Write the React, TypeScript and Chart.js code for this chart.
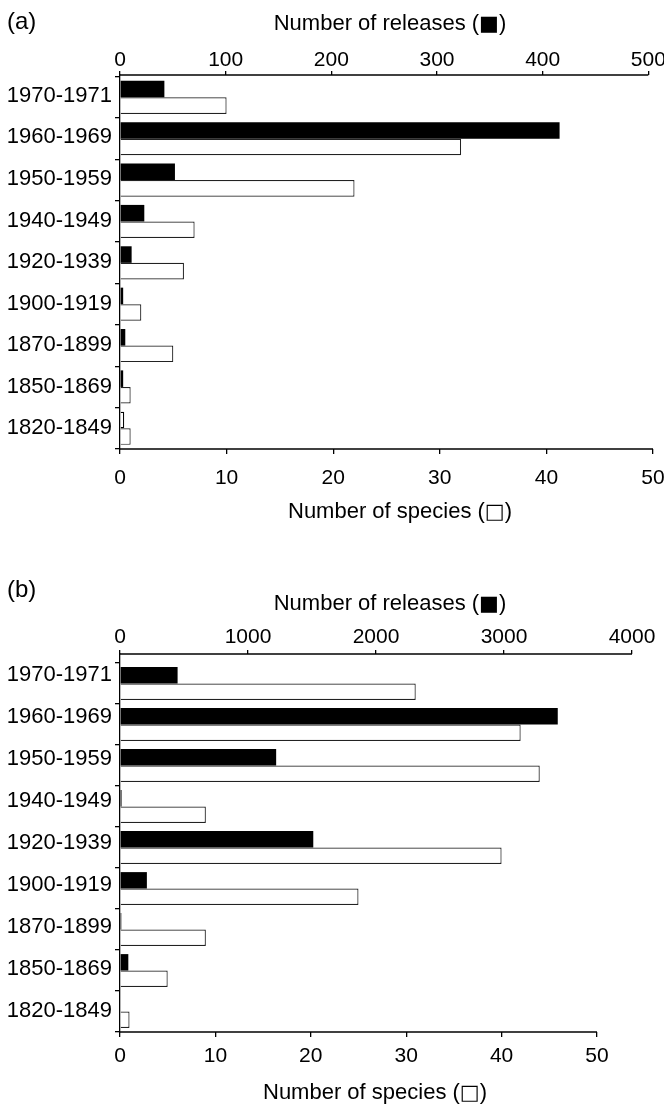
import React, { useEffect, useRef } from 'react';
import { Chart, registerables } from 'chart.js';

Chart.register(...registerables);

// ---- Data ----
const categories = ['1970-1971', '1960-1969', '1950-1959', '1940-1949', '1920-1939', '1900-1919', '1870-1899', '1850-1869', '1820-1849'];

// Panel (a)
const releasesA = [42, 416, 52, 23, 11, 3, 5, 3, 4];
const speciesA = [10, 32, 22, 7, 6, 2, 5, 1, 1];
const releaseTicksA = [0, 100, 200, 300, 400, 500];

// Panel (b)
const releasesB = [450, 3420, 1220, 12, 1510, 210, 10, 65, 0];
const speciesB = [31, 42, 44, 9, 40, 25, 9, 5, 1];
const releaseTicksB = [0, 1000, 2000, 3000, 4000];

const speciesTicks = [0, 10, 20, 30, 40, 50];

const releasesTitle = ['Number of releases (', '\u25A0', ')'];
const speciesTitle = ['Number of species (', '\u25A1', ')'];

const FONT = '"Liberation Sans", Arial, Helvetica, sans-serif';
const INK = '#000';

type PanelCfg = {
  releases: number[];
  species: number[];
  relTicks: number[];
  relMax: number;
  spTicks: number[];
  spMax: number;
  height: number;
  padRight: number;
  topH: number;
  bottomH: number;
  gap: number;
  topTickPad: number;
  bottomTickPad: number;
  topTitle: { cx: number; base: number };
  bottomTitle: { cx: number; base: number };
  hollowLast: boolean;
};

const last = (a: number[]) => a[a.length - 1];

function drawTitle(ctx: CanvasRenderingContext2D, parts: string[], cx: number, base: number) {
  const fonts = [`22px ${FONT}`, `21px "DejaVu Sans", sans-serif`, `22px ${FONT}`];
  const widths = parts.map((t, i) => {
    ctx.font = fonts[i];
    return ctx.measureText(t).width;
  });
  const total = widths.reduce((a, b) => a + b, 0);
  let x = cx - total / 2;
  ctx.fillStyle = INK;
  ctx.textBaseline = 'alphabetic';
  ctx.textAlign = 'left';
  parts.forEach((t, i) => {
    ctx.font = fonts[i];
    ctx.fillText(t, x, base);
    x += widths[i];
  });
}

const axisExtras = {
  id: 'axisExtras',
  afterDraw(chart: any, _args: any, opts: any) {
    const ctx = chart.ctx;
    const ca = chart.chartArea;
    ctx.save();
    ctx.strokeStyle = INK;
    ctx.lineWidth = 1.3;
    const xs = chart.scales.x;
    const x2 = chart.scales.x2;
    ctx.beginPath();
    ctx.moveTo(xs.getPixelForValue(0), ca.bottom);
    ctx.lineTo(xs.getPixelForValue(opts.spLimit), ca.bottom);
    ctx.stroke();
    ctx.beginPath();
    ctx.moveTo(x2.getPixelForValue(0), ca.top);
    ctx.lineTo(x2.getPixelForValue(opts.relLimit), ca.top);
    ctx.stroke();
    drawTitle(ctx, releasesTitle, opts.topTitle.cx, opts.topTitle.base);
    drawTitle(ctx, speciesTitle, opts.bottomTitle.cx, opts.bottomTitle.base);
    ctx.restore();
  },
};

function makeConfig(p: PanelCfg): any {
  const n = categories.length;
  return {
    type: 'bar',
    data: {
      labels: categories,
      datasets: [
        {
          label: 'releases',
          data: p.releases,
          xAxisID: 'x2',
          yAxisID: 'yBars',
          backgroundColor: (c: any) => (p.hollowLast && c.dataIndex === n - 1 ? '#fff' : INK),
          borderColor: INK,
          borderWidth: (c: any) => (p.hollowLast && c.dataIndex === n - 1 ? 1.2 : 0),
          borderSkipped: 'start',
          barPercentage: 1,
          categoryPercentage: 0.8,
        },
        {
          label: 'species',
          data: p.species,
          xAxisID: 'x',
          yAxisID: 'yBars',
          backgroundColor: '#fff',
          borderColor: '#222',
          borderWidth: 1.2,
          borderSkipped: 'start',
          barPercentage: 1,
          categoryPercentage: 0.8,
        },
      ],
    },
    options: {
      indexAxis: 'y',
      responsive: false,
      animation: false,
      devicePixelRatio: 1,
      layout: { padding: { left: 0, right: p.padRight, top: 0, bottom: 0 } },
      plugins: {
        legend: { display: false },
        tooltip: { enabled: false },
        axisExtras: {
          spLimit: last(p.spTicks),
          relLimit: last(p.relTicks),
          topTitle: p.topTitle,
          bottomTitle: p.bottomTitle,
        },
      },
      scales: {
        yLabels: {
          type: 'category',
          position: 'left',
          labels: categories,
          offset: true,
          weight: 1,
          grid: { display: false, drawTicks: false },
          border: { display: false },
          ticks: {
            autoSkip: false,
            padding: 3,
            color: INK,
            font: { family: FONT, size: 22, lineHeight: 1 },
          },
          afterFit: (s: any) => { s.width = 115; s.paddingTop = 0; s.paddingBottom = 0; },
        },
        yBars: {
          type: 'category',
          position: 'left',
          offset: true,
          weight: 0,
          grid: {
            display: true,
            offset: true,
            drawOnChartArea: false,
            drawTicks: true,
            tickLength: 5,
            color: INK,
            lineWidth: 1.3,
          },
          border: { display: true, color: INK, width: 1.3 },
          ticks: { display: false },
          afterBuildTicks: (s: any) => {
            s._startValue -= p.gap;
            s._valueRange += p.gap;
          },
          afterFit: (s: any) => { s.width = 5; s.paddingTop = 0; s.paddingBottom = 0; },
        },
        x2: {
          type: 'linear',
          position: 'top',
          min: 0,
          max: p.relMax,
          grid: { display: true, drawOnChartArea: false, drawTicks: true, tickLength: 4, color: INK, lineWidth: 1.3 },
          border: { display: false },
          ticks: {
            padding: p.topTickPad,
            maxRotation: 0,
            autoSkip: false,
            color: INK,
            font: { family: FONT, size: 21, lineHeight: 1 },
            callback: (v: any) => String(v),
          },
          afterBuildTicks: (s: any) => {
            s.ticks = p.relTicks.map((v) => ({ value: v }));
          },
          title: { display: false },
          afterFit: (s: any) => { s.height = p.topH; s.paddingLeft = 0; s.paddingRight = 0; },
        },
        x: {
          type: 'linear',
          position: 'bottom',
          min: 0,
          max: p.spMax,
          grid: { display: true, drawOnChartArea: false, drawTicks: true, tickLength: 5, color: INK, lineWidth: 1.3 },
          border: { display: false },
          ticks: {
            padding: p.bottomTickPad,
            maxRotation: 0,
            autoSkip: false,
            color: INK,
            font: { family: FONT, size: 21, lineHeight: 1 },
            callback: (v: any) => String(v),
          },
          afterBuildTicks: (s: any) => {
            s.ticks = p.spTicks.map((v) => ({ value: v }));
          },
          title: { display: false },
          afterFit: (s: any) => { s.height = p.bottomH; s.paddingLeft = 0; s.paddingRight = 0; },
        },
      },
    },
    plugins: [axisExtras],
  };
}

const panelA: PanelCfg = {
  releases: releasesA,
  species: speciesA,
  relTicks: releaseTicksA,
  relMax: 504.4,
  spTicks: speciesTicks,
  spMax: 50,
  height: 545,
  padRight: 11,
  topH: 75,
  bottomH: 96,
  gap: 0.04,
  topTickPad: 0,
  bottomTickPad: 13.5,
  topTitle: { cx: 390, base: 30.3 },
  bottomTitle: { cx: 400, base: 518 },
  hollowLast: true,
};

const panelB: PanelCfg = {
  releases: releasesB,
  species: speciesB,
  relTicks: releaseTicksB,
  relMax: 4000,
  spTicks: speciesTicks,
  spMax: 53.67,
  height: 564,
  padRight: 32,
  topH: 109,
  bottomH: 77,
  gap: 0.22,
  topTickPad: 2,
  bottomTickPad: 8.5,
  topTitle: { cx: 390, base: 65.3 },
  bottomTitle: { cx: 375, base: 554.3 },
  hollowLast: false,
};

function Panel({ cfg, top, tag, tagTop }: { cfg: PanelCfg; top: number; tag: string; tagTop: number }) {
  const ref = useRef<HTMLCanvasElement | null>(null);
  useEffect(() => {
    if (!ref.current) return;
    const chart = new Chart(ref.current, makeConfig(cfg));
    return () => chart.destroy();
  }, [cfg]);
  return (
    <>
      <canvas
        ref={ref}
        width={664}
        height={cfg.height}
        style={{ position: 'absolute', left: 0, top, width: 664, height: cfg.height, display: 'block' }}
      />
      <div
        style={{
          position: 'absolute',
          left: 7,
          top: tagTop,
          fontFamily: FONT,
          fontSize: 24,
          lineHeight: '24px',
          color: INK,
          whiteSpace: 'nowrap',
        }}
      >
        {tag}
      </div>
    </>
  );
}

export default function App() {
  return (
    <div style={{ position: 'absolute', left: 0, top: 0, width: 664, height: 1109, background: '#fff', overflow: 'hidden' }}>
      <Panel cfg={panelA} top={0} tag="(a)" tagTop={9} />
      <Panel cfg={panelB} top={545} tag="(b)" tagTop={577} />
    </div>
  );
}
